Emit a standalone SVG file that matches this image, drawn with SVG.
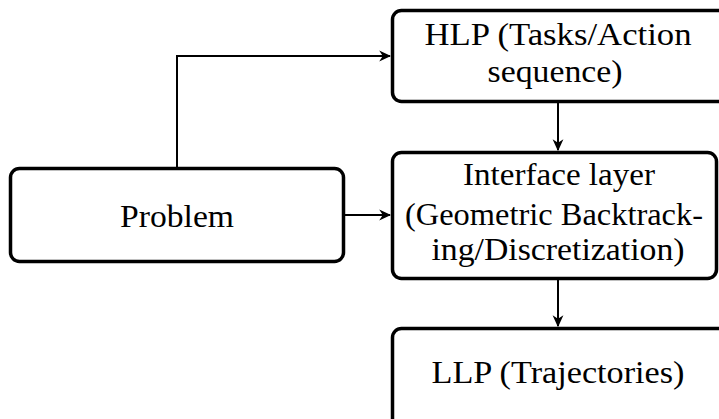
<svg xmlns="http://www.w3.org/2000/svg" width="719" height="419" viewBox="0 0 719 419">
<style>
.box{fill:#fff;stroke:#000;stroke-width:3.5}
.t{font-family:"Liberation Serif","DejaVu Serif",serif;font-size:31px;fill:#000;text-anchor:middle}
.c{fill:none;stroke:#000;stroke-width:2}
</style>
<defs>
<marker id="ah" viewBox="0 0 10 10" refX="9" refY="5" markerWidth="12" markerHeight="12" markerUnits="userSpaceOnUse" orient="auto">
<path d="M0,0.5 L10,5 L0,9.5 L3,5 Z" fill="#000"/>
</marker>
</defs>
<g id="problem">
<rect class="box" x="10.5" y="168.5" width="333" height="93" rx="9"/>
<text class="t" x="177" y="227" textLength="114" lengthAdjust="spacingAndGlyphs">Problem</text>
</g>
<g id="hlp">
<rect class="box" x="392.5" y="10.5" width="340" height="91" rx="9"/>
<text class="t" x="558" y="45" textLength="267" lengthAdjust="spacingAndGlyphs">HLP (Tasks/Action</text>
<text class="t" x="555" y="82" textLength="135" lengthAdjust="spacingAndGlyphs">sequence)</text>
</g>
<g id="interface">
<rect class="box" x="392.5" y="152.5" width="324" height="126" rx="9"/>
<text class="t" x="559" y="185" textLength="192" lengthAdjust="spacingAndGlyphs">Interface layer</text>
<text class="t" x="554" y="225" textLength="298" lengthAdjust="spacingAndGlyphs">(Geometric Backtrack-</text>
<text class="t" x="558" y="260" textLength="253" lengthAdjust="spacingAndGlyphs">ing/Discretization)</text>
</g>
<g id="llp">
<rect class="box" x="392.5" y="328.5" width="340" height="120" rx="9"/>
<text class="t" x="558" y="383" textLength="253" lengthAdjust="spacingAndGlyphs">LLP (Trajectories)</text>
</g>
<g id="connectors">
<path class="c" d="M177,168 V56 H390" marker-end="url(#ah)"/>
<path class="c" d="M344,215 H390" marker-end="url(#ah)"/>
<path class="c" d="M558,102 V150" marker-end="url(#ah)"/>
<path class="c" d="M558,279 V326" marker-end="url(#ah)"/>
</g>
</svg>
